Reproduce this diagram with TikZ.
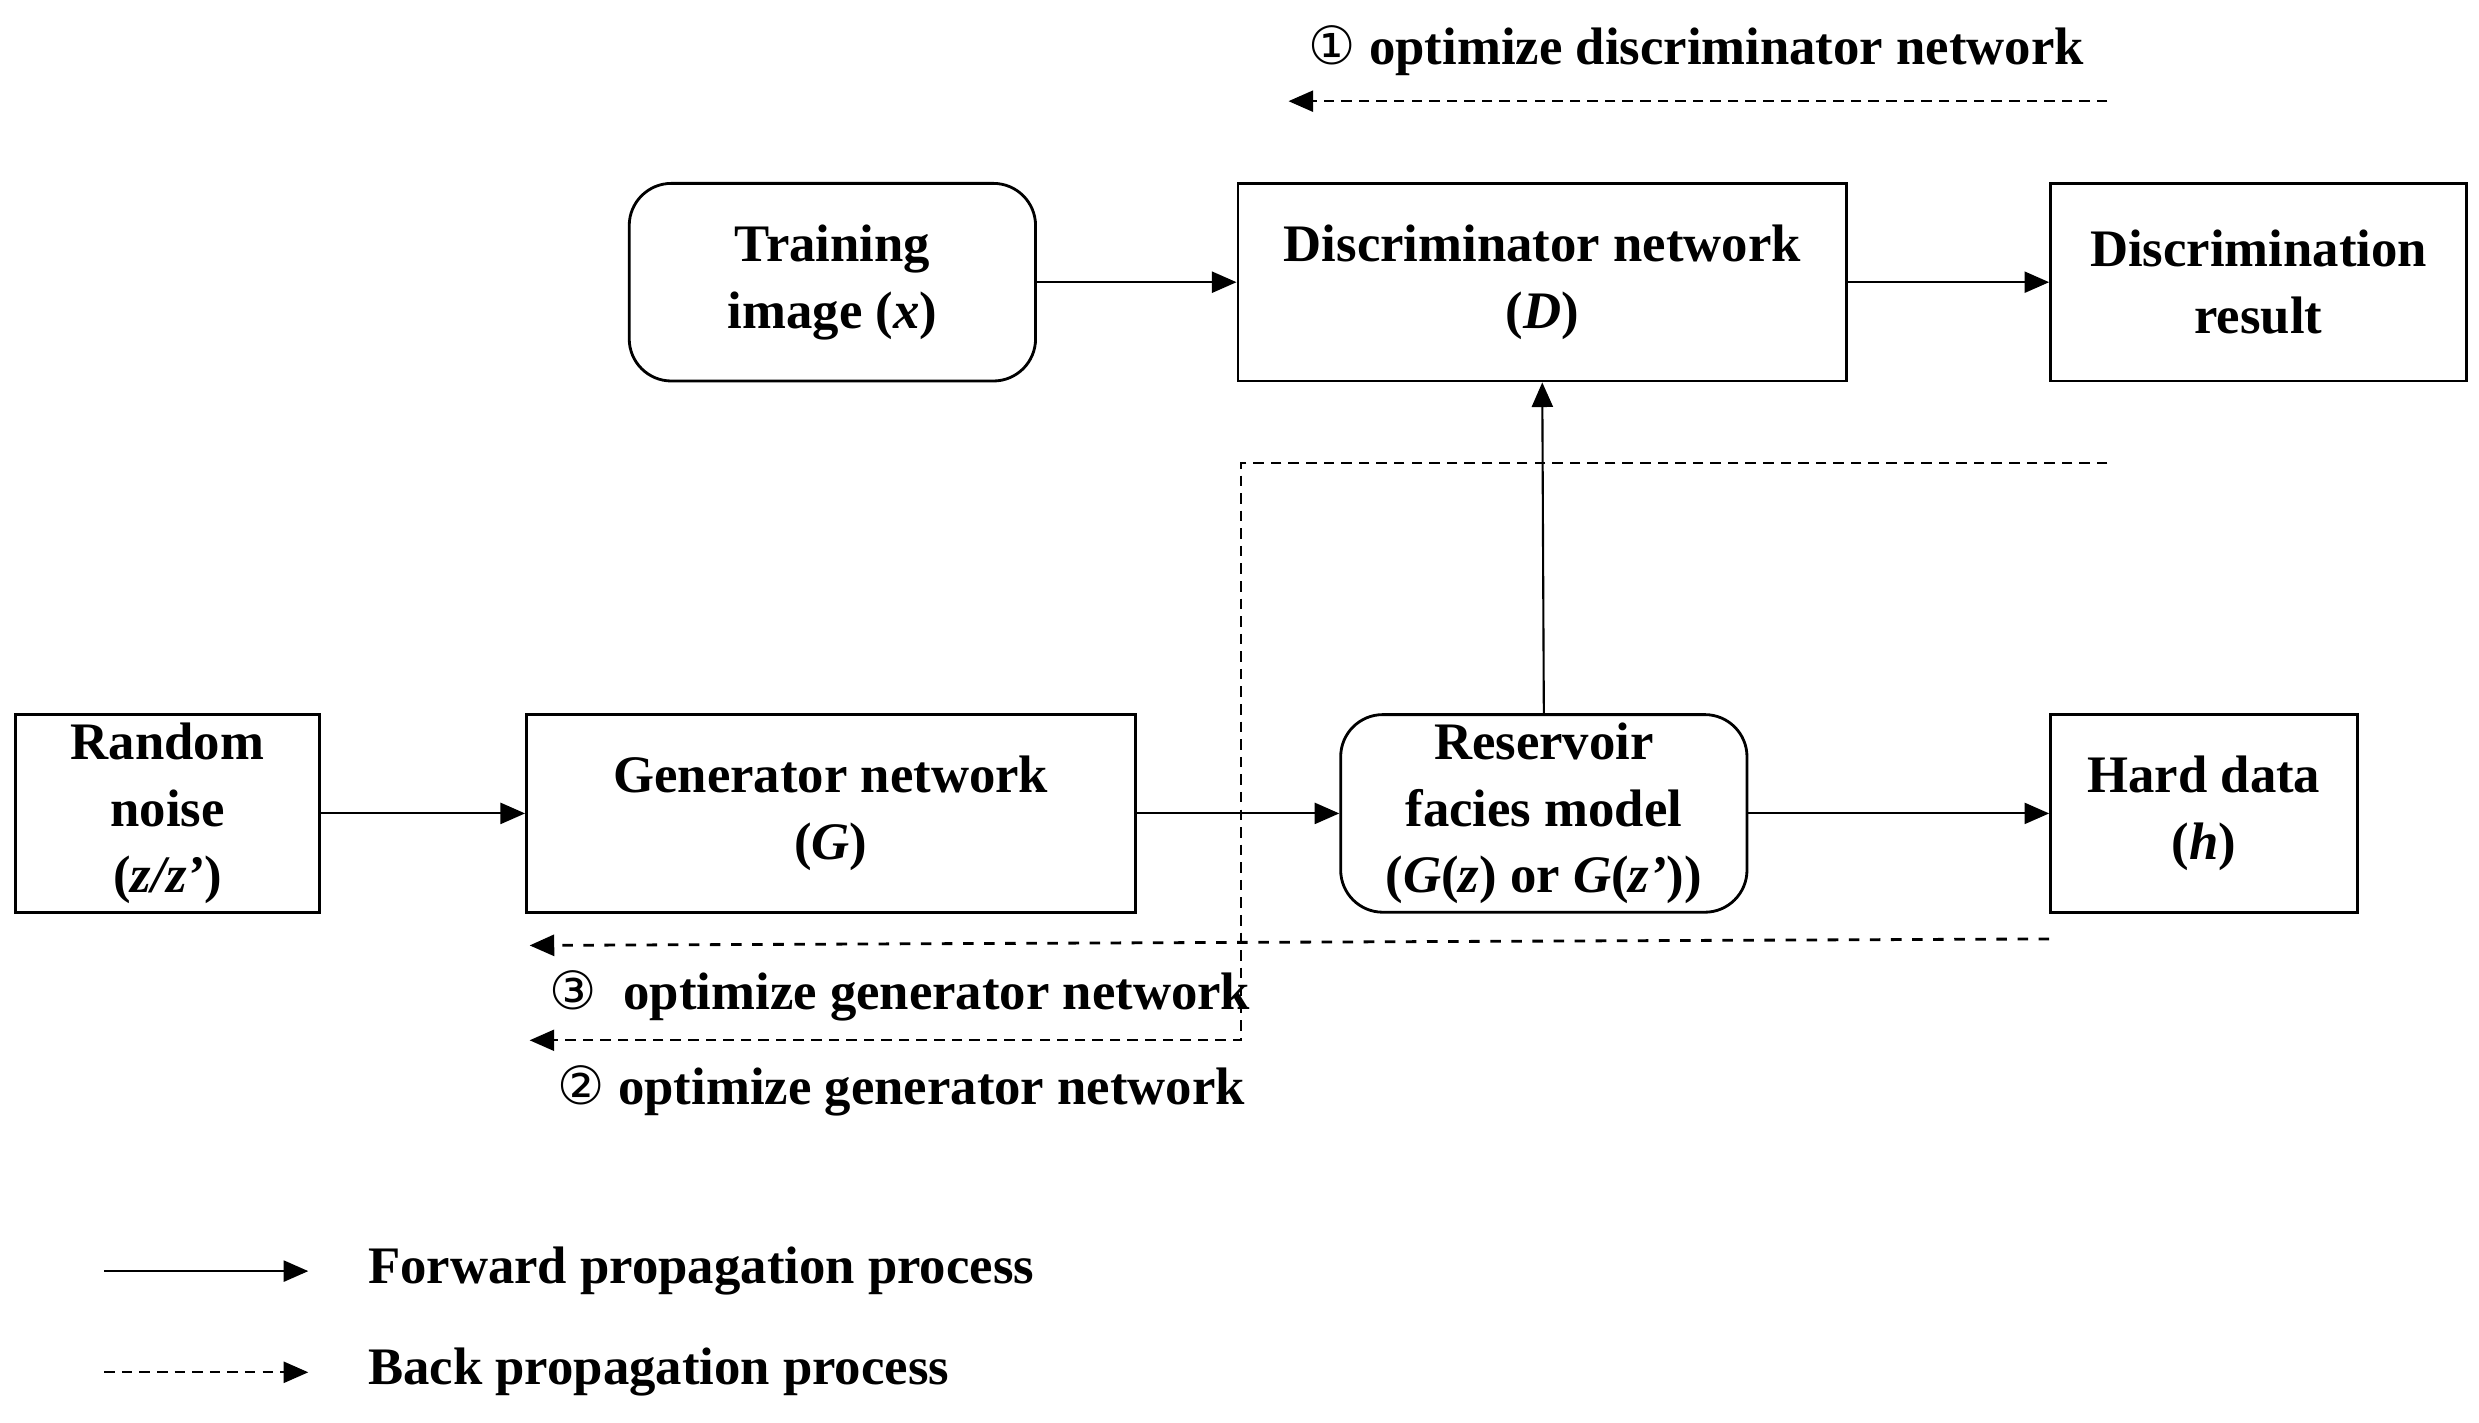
\documentclass[tikz,border=0pt]{standalone}
\usepackage{fontspec}
\setmainfont{Liberation Serif}
\newfontfamily\circfont{DejaVu Sans}
\usetikzlibrary{arrows.meta}

\begin{document}
\begin{tikzpicture}[x=0.01581cm,y=-0.01581cm,
                    block/.style={draw,thick,align=center,font=\bfseries\fontsize{15}{19}\selectfont,inner sep=0pt},
                    rblock/.style={block,rounded corners=12pt},
                    forward arrow/.style={-{Triangle[length=7pt,width=6pt]},semithick},
                    back arrow/.style={-{Triangle[length=7pt,width=6pt]},densely dashed,semithick},
                    label text/.style={font=\bfseries\fontsize{15}{19}\selectfont,anchor=west}]
  \useasboundingbox (0,0) rectangle (1568,900);

  % boxes
  \node[rblock,minimum width=257\pgflinewidth/\pgflinewidth*0.01581cm,minimum height=125*0.01581cm] (training) at (526.5,178.5) {Training\\image (\textit{x})};
  \node[block,minimum width=385*0.01581cm,minimum height=125*0.01581cm] (disc) at (975.5,178.5) {Discriminator network\\(\textit{D})};
  \node[block,minimum width=263*0.01581cm,minimum height=125*0.01581cm] (result) at (1428.5,178.5) {Discrimination\\result};
  \node[block,minimum width=192*0.01581cm,minimum height=125*0.01581cm] (noise) at (106,514.5) {Random\\noise\\(\textit{z/z'})};
  \node[block,minimum width=385*0.01581cm,minimum height=125*0.01581cm] (gen) at (525.5,514.5) {Generator network\\(\textit{G})};
  \node[rblock,minimum width=257*0.01581cm,minimum height=125*0.01581cm] (facies) at (976.5,514.5) {Reservoir\\facies model\\(\textit{G}(\textit{z}) or \textit{G}(\textit{z'}))};
  \node[block,minimum width=194*0.01581cm,minimum height=125*0.01581cm] (hard) at (1394,514.5) {Hard data\\(\textit{h})};

  % forward propagation
  \draw[forward arrow] (training) -- (disc);
  \draw[forward arrow] (disc) -- (result);
  \draw[forward arrow] (noise) -- (gen);
  \draw[forward arrow] (gen) -- (facies);
  \draw[forward arrow] (facies) -- (hard);
  \draw[forward arrow] (facies.north) -- (disc.south);

  % back propagation
  \coordinate (d1s) at (1333,64);
  \coordinate (d1e) at (815,64);
  \draw[back arrow] (d1s) -- (d1e);
  \node[label text] (opt1) at (820,32) {{\circfont\mdseries ①} optimize discriminator network};

  \coordinate (d2s) at (1333,293);
  \coordinate (d2e) at (335,658);
  \draw[back arrow] (d2s) -- (785,293) -- (785,658) -- (d2e);
  \node[label text] (opt2) at (345,690) {{\circfont\mdseries ②} optimize generator network};

  \coordinate (d3e) at (335,598);
  \draw[back arrow,dashed,thick] (hard.south west) ++(0,16) -- (d3e);
  \node[label text] (opt3) at (340,630) {{\circfont\mdseries ③} \ optimize generator network};

  % legend
  \coordinate (l1s) at (66,804);
  \coordinate (l1e) at (195,804);
  \coordinate (l2s) at (66,868);
  \coordinate (l2e) at (195,868);
  \draw[forward arrow] (l1s) -- (l1e);
  \draw[back arrow] (l2s) -- (l2e);
  \node[label text] (fwd) at (225,804) {Forward propagation process};
  \node[label text] (bwd) at (225,868) {Back propagation process};
\end{tikzpicture}
\end{document}
